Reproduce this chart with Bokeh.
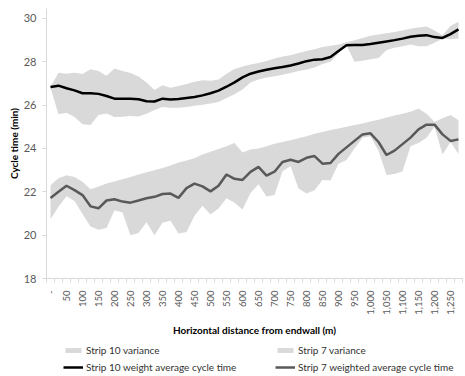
from math import pi

from bokeh.plotting import figure
from bokeh.layouts import column
from bokeh.models import Range1d, FixedTicker, Legend, LegendItem
from bokeh.embed import file_html
from bokeh.resources import INLINE

# Horizontal distance from the endwall (m), one category every 25 m
distance_m = [0, 25, 50, 75, 100, 125, 150, 175, 200, 225,
              250, 275, 300, 325, 350, 375, 400, 425, 450, 475,
              500, 525, 550, 575, 600, 625, 650, 675, 700, 725,
              750, 775, 800, 825, 850, 875, 900, 925, 950, 975,
              1000, 1025, 1050, 1075, 1100, 1125, 1150, 1175, 1200, 1225,
              1250, 1275]

# Strip 10: weighted average cycle time (min) and its variance band
strip10_avg = [26.84, 26.9, 26.78, 26.68, 26.55, 26.55, 26.52, 26.42, 26.3, 26.29,
               26.29, 26.27, 26.18, 26.17, 26.3, 26.26, 26.28, 26.33, 26.38, 26.45,
               26.55, 26.67, 26.85, 27.05, 27.28, 27.45, 27.55, 27.63, 27.7, 27.76,
               27.83, 27.92, 28.03, 28.1, 28.12, 28.22, 28.5, 28.76, 28.78, 28.78,
               28.82, 28.88, 28.94, 29.0, 29.07, 29.16, 29.2, 29.23, 29.14, 29.1,
               29.28, 29.5]
strip10_high = [26.85, 27.49, 27.45, 27.49, 27.44, 27.66, 27.57, 27.36, 27.69, 27.58,
                27.48, 27.32, 27.05, 26.7, 26.92, 26.8, 26.88, 26.98, 27.08, 27.15,
                27.13, 27.18, 27.45, 27.67, 27.78, 27.88, 27.95, 28.04, 28.15, 28.24,
                28.3, 28.41, 28.5, 28.58, 28.68, 28.74, 28.8, 28.9, 29.0, 29.1,
                29.2, 29.26, 29.32, 29.38, 29.45, 29.52, 29.58, 29.63, 29.45, 29.22,
                29.65, 29.85]
strip10_low = [26.8, 25.58, 25.65, 25.45, 25.12, 25.08, 25.54, 25.62, 25.45, 25.46,
               25.5, 25.48, 25.6, 25.78, 25.92, 25.88, 25.88, 25.92, 25.97, 26.02,
               26.08, 26.14, 26.33, 26.5, 26.72, 27.05, 27.18, 27.28, 27.33, 27.4,
               27.48, 27.58, 27.65, 27.74, 27.9, 28.0, 28.4, 28.75, 28.0, 28.05,
               28.12, 28.18, 28.55, 28.65, 28.72, 28.8, 28.72, 28.72, 28.88, 29.06,
               29.04, 29.08]

# Strip 7: weighted average cycle time (min) and its variance band
strip7_avg = [21.72, 22.0, 22.28, 22.08, 21.85, 21.33, 21.24, 21.6, 21.66, 21.55,
              21.5, 21.6, 21.7, 21.77, 21.9, 21.92, 21.72, 22.17, 22.38, 22.25,
              22.02, 22.28, 22.8, 22.6, 22.55, 22.92, 23.15, 22.75, 22.93, 23.38,
              23.48, 23.38, 23.57, 23.65, 23.3, 23.33, 23.75, 24.05, 24.35, 24.65,
              24.7, 24.3, 23.7, 23.9, 24.2, 24.5, 24.88, 25.1, 25.1, 24.65,
              24.35, 24.42]
strip7_high = [22.3, 22.63, 22.77, 22.68, 22.47, 22.12, 22.25, 22.38, 22.48, 22.58,
               22.68, 22.8, 22.9, 23.0, 23.1, 23.22, 23.35, 23.45, 23.55, 23.72,
               23.85, 23.98, 24.1, 24.25, 23.82, 23.95, 24.0, 24.1, 24.22, 24.3,
               24.38, 24.47, 24.56, 24.68, 24.76, 24.85, 24.92, 25.0, 25.08, 25.15,
               25.25, 25.33, 25.43, 25.52, 25.6, 25.7, 25.85, 25.6, 25.22, 25.4,
               25.55, 25.3]
strip7_low = [20.73, 21.31, 21.8, 21.58, 20.98, 20.4, 20.25, 20.33, 21.15, 21.05,
              20.0, 20.1, 20.6, 20.0, 20.57, 20.67, 20.08, 20.15, 20.9, 21.36,
              20.95, 21.23, 21.7, 21.5, 21.18, 21.95, 22.35, 21.78, 21.85, 22.95,
              23.18, 22.15, 21.92, 22.07, 22.55, 22.52, 23.3, 23.47, 24.0, 24.5,
              24.57, 23.9, 22.78, 22.82, 22.95, 24.1, 24.25, 24.5, 25.0, 23.72,
              24.3, 23.75]

# Axis ticks and labels
y_ticks = [18, 20, 22, 24, 26, 28, 30]
x_tick_values = [0, 50, 100, 150, 200, 250, 300, 350, 400, 450, 500, 550, 600,
                 650, 700, 750, 800, 850, 900, 950, 1000, 1050, 1100, 1150, 1200, 1250]
x_tick_labels = ["-", "50", "100", "150", "200", "250", "300", "350", "400", "450",
                 "500", "550", "600", "650", "700", "750", "800", "850", "900", "950",
                 "1,000", "1,050", "1,100", "1,150", "1,200", "1,250"]

FONT = "Lato"
BAND = "#d9d9d9"
AXIS_GREY = "#d9d9d9"
LINE10 = "#000000"
LINE7 = "#595959"

half_step = 12.5
x_bounds = [d - half_step for d in distance_m] + [distance_m[-1] + half_step]

p = figure(width=465, height=338, output_backend="svg", toolbar_location=None,
           x_range=Range1d(distance_m[0] - half_step, distance_m[-1] + half_step),
           y_range=Range1d(18, 30.46),
           min_border_left=46, min_border_right=3, min_border_top=8,
           min_border_bottom=60)
p.outline_line_color = None
p.xgrid.visible = False
p.ygrid.visible = False

p.varea(x=distance_m, y1=strip10_low, y2=strip10_high, fill_color=BAND)
p.varea(x=distance_m, y1=strip7_low, y2=strip7_high, fill_color=BAND)
p.line(x=distance_m, y=strip10_avg, line_color=LINE10, line_width=2.5)
p.line(x=distance_m, y=strip7_avg, line_color=LINE7, line_width=2.5)

# x axis: labels every 50 m, small ticks at category boundaries
xa = p.xaxis[0]
xa.ticker = FixedTicker(ticks=x_tick_values, minor_ticks=x_bounds)
xa.major_label_overrides = dict(zip(x_tick_values, x_tick_labels))
xa.major_label_orientation = pi / 2
xa.major_tick_out = 0
xa.major_tick_in = 0
xa.minor_tick_out = 4
xa.minor_tick_in = 0
xa.minor_tick_line_color = AXIS_GREY
xa.axis_line_color = AXIS_GREY
xa.major_label_standoff = 8
xa.major_label_text_font = FONT
xa.major_label_text_font_size = "9.5px"
xa.major_label_text_color = "#595959"
xa.axis_label = "Horizontal distance from endwall (m)"
xa.axis_label_text_font = FONT
xa.axis_label_text_font_size = "10px"
xa.axis_label_text_font_style = "bold"
xa.axis_label_text_color = "#000000"
xa.axis_label_standoff = 6

ya = p.yaxis[0]
ya.ticker = FixedTicker(ticks=y_ticks)
ya.minor_tick_line_color = None
ya.major_tick_out = 4
ya.major_tick_in = 0
ya.major_tick_line_color = AXIS_GREY
ya.axis_line_color = AXIS_GREY
ya.major_label_standoff = 6
ya.major_label_text_font = FONT
ya.major_label_text_font_size = "11px"
ya.major_label_text_color = "#595959"
ya.axis_label = "Cycle time (min)"
ya.axis_label_text_font = FONT
ya.axis_label_text_font_size = "10px"
ya.axis_label_text_font_style = "bold"
ya.axis_label_text_color = "#000000"
ya.axis_label_standoff = 1

# legend strip underneath the chart; its key glyphs sit outside the visible range
leg = figure(width=465, height=38, output_backend="svg", toolbar_location=None,
             x_range=Range1d(0, 1), y_range=Range1d(0, 1),
             x_axis_location=None, y_axis_location=None,
             min_border=0)
leg.outline_line_color = None
leg.xgrid.visible = False
leg.ygrid.visible = False

off = [5, 6]
key10_band = leg.varea(x=off, y1=off, y2=off, fill_color=BAND)
key7_band = leg.varea(x=off, y1=off, y2=off, fill_color=BAND)
key10_line = leg.line(x=off, y=off, line_color=LINE10, line_width=2.5)
key7_line = leg.line(x=off, y=off, line_color=LINE7, line_width=2.5)

legend = Legend(
    items=[
        LegendItem(label="Strip 10 variance", renderers=[key10_band]),
        LegendItem(label="Strip 7 variance", renderers=[key7_band]),
        LegendItem(label="Strip 10 weight average cycle time", renderers=[key10_line]),
        LegendItem(label="Strip 7 weighted average cycle time", renderers=[key7_line]),
    ],
    orientation="horizontal", ncols=2, location=(17, 2),
    glyph_width=20, glyph_height=6, label_width=186, label_height=14,
    label_standoff=3, spacing=3, padding=0, margin=0,
    label_text_font=FONT, label_text_font_size="10px", label_text_color="#333333",
    border_line_color=None, background_fill_alpha=0,
)
leg.add_layout(legend)

layout = column(p, leg, spacing=0)
open("out.html", "w").write(file_html(layout, INLINE))
